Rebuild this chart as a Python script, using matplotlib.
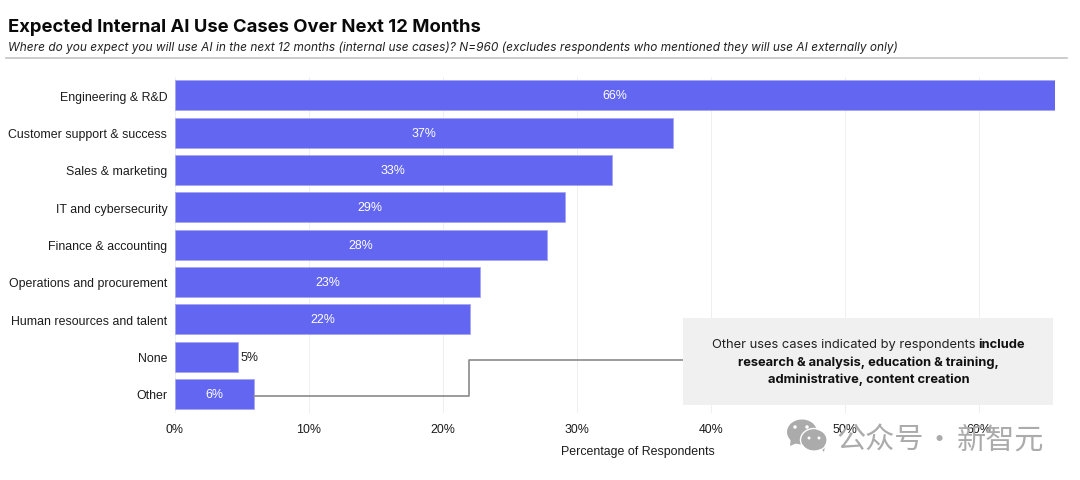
import matplotlib
matplotlib.use("Agg")
import matplotlib.pyplot as plt
from matplotlib.lines import Line2D
from matplotlib.patches import Rectangle, Ellipse, Polygon

categories = ["Engineering & R&D", "Customer support & success", "Sales & marketing",
              "IT and cybersecurity", "Finance & accounting", "Operations and procurement",
              "Human resources and talent", "None", "Other"]
values = [65.7, 37.2, 32.6, 29.1, 27.8, 22.8, 22.0, 4.7, 5.9]
labels = ["66%", "37%", "33%", "29%", "28%", "23%", "22%", "5%", "6%"]
xticks = [0, 10, 20, 30, 40, 50, 60]

W, H = 1080, 481
fig = plt.figure(figsize=(W / 100, H / 100), dpi=100, facecolor="white")
SANS = "Liberation Sans"
LBL = "#1c1c1c"
FS = 8.9


def fx(p):
    return p / W


def fy(p):
    return 1 - p / H


ax = fig.add_axes([fx(175), fy(414), fx(880), (414 - 78) / H])
ypos = list(range(len(categories)))
ax.barh(ypos, values, height=0.8, color="#6366F1", edgecolor="#A5A7F6", linewidth=0.6, zorder=3)
ax.set_xlim(0, 65.7)
ax.set_ylim(len(categories) - 0.49, -0.49)
ax.set_yticks(ypos)
ax.set_yticklabels(categories, fontfamily=SANS, fontsize=FS, color=LBL)
ax.set_xticks(xticks)
ax.set_xticklabels([f"{t}%" for t in xticks], fontfamily=SANS, fontsize=FS, color=LBL)
ax.tick_params(length=0, axis="y", pad=5.5)
ax.tick_params(length=0, axis="x", pad=7.5)
ax.grid(axis="x", color="#EFEFEF", linewidth=0.7, zorder=0)
for s in ax.spines.values():
    s.set_visible(False)
ax.set_xlabel("Percentage of Respondents", fontfamily=SANS, fontsize=FS, color=LBL)
ax.xaxis.set_label_coords((638 - 175) / 880, -(446 - 414) / 336, transform=ax.transAxes)

for y, v, l in zip(ypos, values, labels):
    if v < 5:
        ax.text(v + 0.2, y, l, va="center", ha="left", fontfamily=SANS, fontsize=FS, color=LBL, zorder=4)
    else:
        ax.text(v / 2, y, l, va="center", ha="center", fontfamily=SANS, fontsize=FS, color="white", zorder=4)

fig.text(fx(8), fy(27), "Expected Internal AI Use Cases Over Next 12 Months", fontfamily="Inter",
         fontweight="bold", fontsize=13.25, color="#0a0a0a", va="center", ha="left")
fig.text(fx(8), fy(48), "Where do you expect you will use AI in the next 12 months (internal use cases)? N=960 "
         "(excludes respondents who mentioned they will use AI externally only)", fontfamily="Inter",
         style="italic", fontsize=8.55, color="#222222", va="center", ha="left")
fig.add_artist(Line2D([fx(6), fx(1067)], [fy(58.5), fy(58.5)], color="#C4C4C4", linewidth=1.2))

# callout
fig.add_artist(Line2D([fx(254.5), fx(469), fx(469), fx(684)], [fy(396.8), fy(396.8), fy(361.3), fy(361.3)],
                      color="#8a8a8a", linewidth=1.2, zorder=5))
fig.add_artist(Rectangle((fx(683), fy(405.5)), fx(370), 87 / H, transform=fig.transFigure,
                         facecolor="#F0F0F0", edgecolor="none", zorder=6))
CX = 868.5
BOXF = "Inter"
BFS = 9.3
fig.text(fx(712), fy(345.5), "Other uses cases indicated by respondents", fontfamily=BOXF, fontsize=BFS,
         color="#222222", va="center", ha="left", zorder=7)
fig.text(fx(978), fy(345.5), "include", fontfamily=BOXF, fontweight="bold", fontsize=BFS,
         color="#111111", va="center", ha="left", zorder=7)
fig.text(fx(CX), fy(362.5), "research & analysis, education & training,", fontfamily=BOXF, fontweight="bold",
         fontsize=BFS, color="#111111", va="center", ha="center", zorder=7)
fig.text(fx(CX), fy(380), "administrative, content creation", fontfamily=BOXF, fontweight="bold",
         fontsize=BFS, color="#111111", va="center", ha="center", zorder=7)

# watermark
WM = "#ABABAB"
CJK = ["Noto Sans CJK SC", "DejaVu Sans"]
fig.text(fx(837), fy(441), "公众号", fontfamily=CJK, fontsize=21, color=WM, va="center", ha="left", zorder=8)
fig.text(fx(939), fy(441), "·", fontfamily=CJK, fontsize=21, color=WM, va="center", ha="center", zorder=8)
fig.text(fx(957), fy(441), "新智元", fontfamily=CJK, fontsize=21, color=WM, va="center", ha="left", zorder=8)


def bubble(cx, cy, w, h, tail, col):
    fig.add_artist(Ellipse((fx(cx), fy(cy)), fx(w), h / H, transform=fig.transFigure, facecolor=col,
                           edgecolor="none", zorder=8))
    fig.add_artist(Polygon([(fx(a), fy(b)) for a, b in tail], transform=fig.transFigure, facecolor=col,
                           edgecolor="none", zorder=8))


bubble(802, 433, 30, 25, [(791, 438), (797, 444), (790, 447)], "#ABABAB")
bubble(814, 441, 25, 21, [(819, 447), (825, 447), (824, 453)], "#ABABAB")
fig.add_artist(Ellipse((fx(814), fy(441)), fx(27), 23 / H, transform=fig.transFigure, facecolor="none",
                       edgecolor="white", linewidth=1, zorder=8))
for a, b, r in [(795, 428, 3.5), (807, 428, 3.5), (809, 439, 3), (819, 439, 3)]:
    fig.add_artist(Ellipse((fx(a), fy(b)), fx(r), r / H, transform=fig.transFigure, facecolor="white",
                           edgecolor="none", zorder=9))

fig.savefig("out.png", dpi=100, facecolor="white")
